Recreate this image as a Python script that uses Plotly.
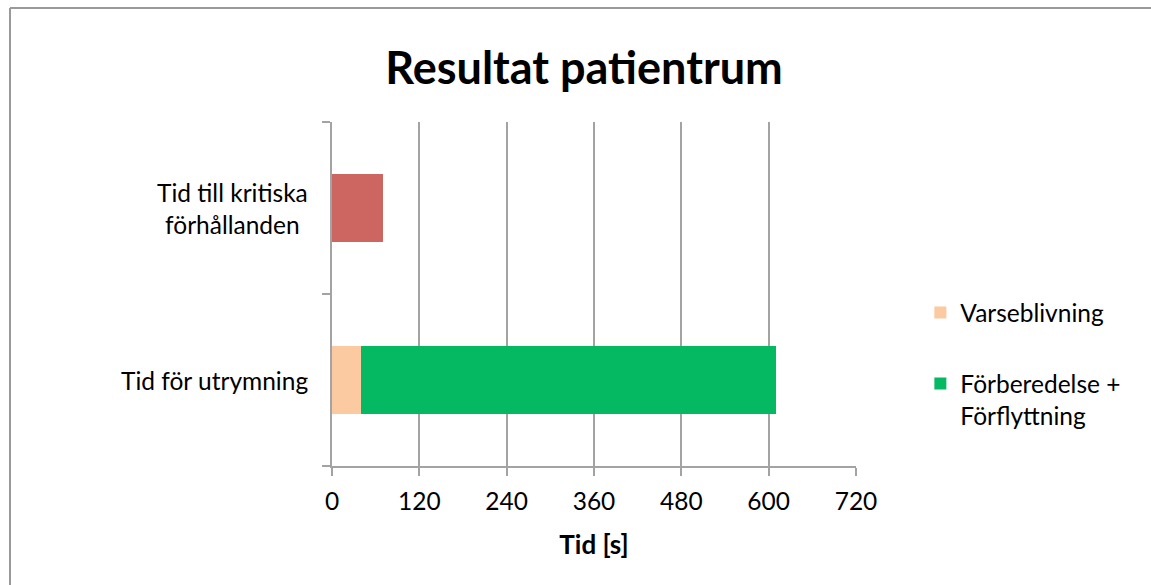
import plotly.graph_objects as go

# Categories (bottom to top on the y axis)
categories = ["Tid för utrymning", "Tid till kritiska förhållanden"]
category_labels = ["Tid för utrymning", "Tid till kritiska<br>förhållanden"]

# Series values in seconds
kritiska = [None, 70]
varseblivning = [40, None]
forflyttning = [570, None]

x_ticks = [0, 120, 240, 360, 480, 600, 720]

FONT = "Lato"
GRID = "#a3a3a3"
LABEL_SIZE = 24.5

fig = go.Figure()
fig.add_trace(go.Bar(
    y=categories, x=kritiska, orientation="h", name="Tid till kritiska förhållanden",
    marker=dict(color="#CD6660", line=dict(width=0)), showlegend=False,
    legendgroup="k",
))
fig.add_trace(go.Bar(
    y=categories, x=varseblivning, orientation="h", name="Varseblivning",
    marker=dict(color="#FBCAA0", line=dict(width=0)), legendgroup="v",
))
fig.add_trace(go.Bar(
    y=categories, x=forflyttning, orientation="h", name="Förberedelse +<br>Förflyttning",
    marker=dict(color="#04B962", line=dict(width=0)), legendgroup="f",
))

# Category labels, centred on each line
annotations = [
    dict(x=0, y=cat, xref="paper", yref="y", text=lab, showarrow=False,
         xanchor="right", yanchor="middle", xshift=-22, align="center",
         font=dict(family=FONT, size=LABEL_SIZE, color="#000"))
    for cat, lab in zip(categories, category_labels)
]

fig.update_layout(
    width=1151, height=585,
    margin=dict(l=332, r=295, t=122, b=119),
    paper_bgcolor="white", plot_bgcolor="white",
    barmode="stack", bargap=0.6,
    font=dict(family=FONT, size=LABEL_SIZE, color="#000"),
    title=dict(text="<b>Resultat patientrum</b>", x=584 / 1151, xanchor="center",
               xref="container", yref="container", y=1 - 68 / 585, yanchor="middle",
               font=dict(family=FONT, size=45, color="#000")),
    xaxis=dict(
        range=[0, 720], tickvals=x_ticks, ticktext=[str(v) for v in x_ticks],
        showgrid=True, gridcolor=GRID, gridwidth=2,
        showline=True, linecolor=GRID, linewidth=2,
        ticks="outside", ticklen=8, tickwidth=2, tickcolor=GRID,
        ticklabelstandoff=5,
        zeroline=False, tickfont=dict(family=FONT, size=LABEL_SIZE),
        title=dict(text="<b>Tid [s]</b>", standoff=21, font=dict(family=FONT, size=26)),
        fixedrange=True,
    ),
    yaxis=dict(
        categoryorder="array", categoryarray=categories,
        showticklabels=False, tickson="boundaries",
        ticks="outside", ticklen=8, tickwidth=2, tickcolor=GRID,
        showline=True, linecolor=GRID, linewidth=2, showgrid=False,
        zeroline=False, fixedrange=True,
    ),
    legend=dict(
        x=1.14 - 9 / 524, y=0.52 - 3 / 344, xanchor="left", yanchor="top",
        traceorder="grouped", tracegroupgap=36, valign="top",
        font=dict(family=FONT, size=LABEL_SIZE), itemwidth=30,
        bgcolor="rgba(0,0,0,0)",
    ),
    annotations=annotations,
    shapes=[
        dict(type="line", xref="paper", yref="paper",
             x0=(10 - 332) / 524, x1=(1160 - 332) / 524,
             y0=(466 - 8) / 344, y1=(466 - 8) / 344,
             line=dict(color="#9a9a9a", width=2)),
        dict(type="line", xref="paper", yref="paper",
             x0=(10 - 332) / 524, x1=(10 - 332) / 524,
             y0=(466 - 8) / 344, y1=(466 - 600) / 344,
             line=dict(color="#9a9a9a", width=2)),
    ],
)

fig.write_html("out.html")
